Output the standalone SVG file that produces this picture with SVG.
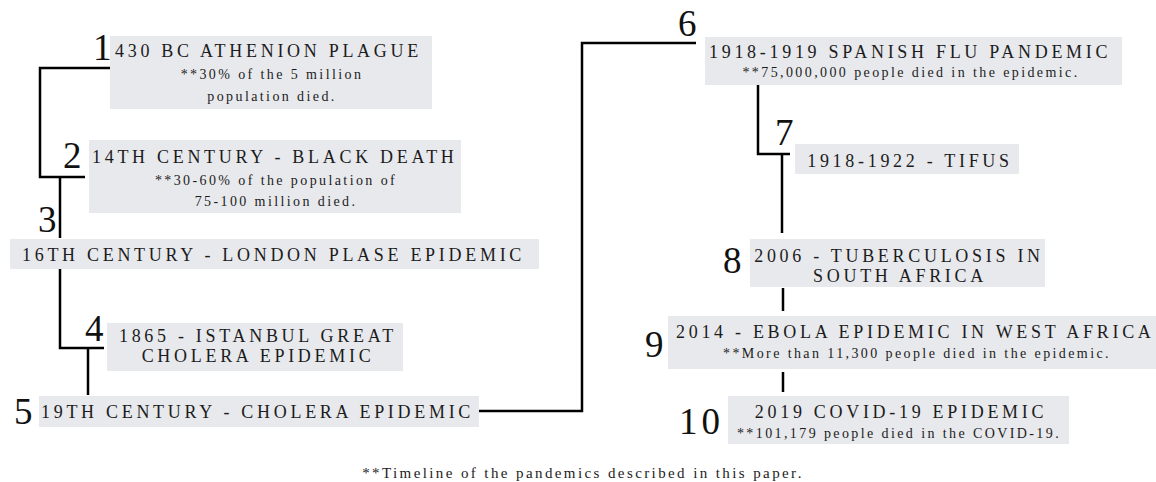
<svg xmlns="http://www.w3.org/2000/svg" width="1156" height="482" viewBox="0 0 1156 482">
<style>
.bg{fill:#ffffff}
.box{fill:#e8e9ed}
.t{font-family:"Liberation Serif","Times New Roman",serif;font-size:18px;letter-spacing:3.7px;fill:#1c1c1c}
.s{font-family:"Liberation Serif","Times New Roman",serif;font-size:14px;letter-spacing:2.4px;fill:#1c1c1c}
.n{font-family:"Liberation Serif","Times New Roman",serif;font-size:37px;fill:#111111}
.m{text-anchor:middle}
.c{fill:none;stroke:#000;stroke-width:2.5;stroke-linejoin:miter;stroke-linecap:butt}
</style>
<rect class="bg" x="0" y="0" width="1156" height="482"/>
<g id="connectors">
<path class="c" d="M110,68 H40 V177 H85"/>
<path class="c" d="M60,177 V238"/>
<path class="c" d="M60,269 V348 H104"/>
<path class="c" d="M88,348 V395"/>
<path class="c" d="M479,411 H582 V43 H696"/>
<path class="c" d="M758,85 V154 H790"/>
<path class="c" d="M782,154 V233"/>
<path class="c" d="M783,288 V311"/>
<path class="c" d="M783,372 V392"/>
</g>
<g id="node1">
<rect class="box" x="110" y="36" width="322" height="73"/>
<text class="n" x="93" y="60">1</text>
<text class="t" x="115" y="57">430 BC ATHENION PLAGUE</text>
<text class="s m" x="272" y="79">**30% of the 5 million</text>
<text class="s m" x="272" y="101">population died.</text>
</g>
<g id="node2">
<rect class="box" x="89" y="140" width="372" height="73"/>
<text class="n" x="63" y="168">2</text>
<text class="t" x="92" y="163">14TH CENTURY - BLACK DEATH</text>
<text class="s m" x="276" y="185">**30-60% of the population of</text>
<text class="s m" x="276" y="206">75-100 million died.</text>
</g>
<g id="node3">
<rect class="box" x="10" y="239" width="529" height="30"/>
<text class="n" x="38" y="232">3</text>
<text class="t" x="22" y="261">16TH CENTURY - LONDON PLASE EPIDEMIC</text>
</g>
<g id="node4">
<rect class="box" x="107" y="323" width="296" height="48"/>
<text class="n" x="85" y="341">4</text>
<text class="t m" x="258" y="342">1865 - ISTANBUL GREAT</text>
<text class="t m" x="258" y="362">CHOLERA EPIDEMIC</text>
</g>
<g id="node5">
<rect class="box" x="39" y="396" width="440" height="31"/>
<text class="n" x="14" y="424">5</text>
<text class="t" x="41" y="418">19TH CENTURY - CHOLERA EPIDEMIC</text>
</g>
<g id="node6">
<rect class="box" x="705" y="37" width="417" height="48"/>
<text class="n" x="678" y="36">6</text>
<text class="t" x="709" y="58">1918-1919 SPANISH FLU PANDEMIC</text>
<text class="s m" x="911" y="77">**75,000,000 people died in the epidemic.</text>
</g>
<g id="node7">
<rect class="box" x="795" y="144" width="224" height="30"/>
<text class="n" x="775" y="145">7</text>
<text class="t m" x="910" y="167">1918-1922 - TIFUS</text>
</g>
<g id="node8">
<rect class="box" x="750" y="239" width="295" height="48"/>
<text class="n" x="723" y="273">8</text>
<text class="t m" x="899" y="262">2006 - TUBERCULOSIS IN</text>
<text class="t m" x="900" y="282">SOUTH AFRICA</text>
</g>
<g id="node9">
<rect class="box" x="668" y="316" width="488" height="53"/>
<text class="n" x="645" y="357">9</text>
<text class="t" x="676" y="338">2014 - EBOLA EPIDEMIC IN WEST AFRICA</text>
<text class="s m" x="917" y="358">**More than 11,300 people died in the epidemic.</text>
</g>
<g id="node10">
<rect class="box" x="728" y="396" width="341" height="48"/>
<text class="n" x="679" y="434" style="letter-spacing:4px">10</text>
<text class="t m" x="901" y="418">2019 COVID-19 EPIDEMIC</text>
<text class="s m" x="899" y="438">**101,179 people died in the COVID-19.</text>
</g>
<g id="caption">
<text class="s m" x="583" y="478" style="font-size:15px;letter-spacing:2.4px">**Timeline of the pandemics described in this paper.</text>
</g>
</svg>
